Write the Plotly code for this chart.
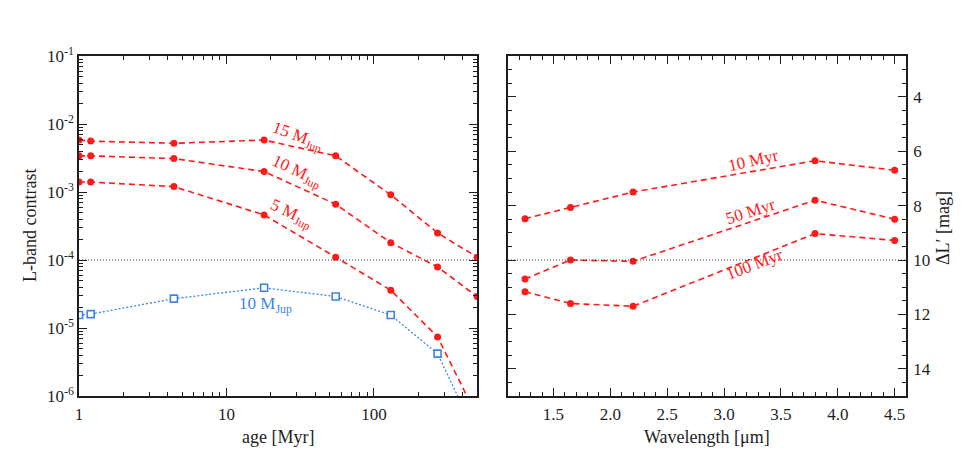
import plotly.graph_objects as go
import numpy as np

# ---------------- data ----------------
ages = [1.0, 1.2, 4.4, 18, 55, 130, 270, 500]
c15 = [5.8e-3, 5.6e-3, 5.2e-3, 5.8e-3, 3.4e-3, 9.1e-4, 2.5e-4, 1.1e-4]
c10 = [3.4e-3, 3.4e-3, 3.1e-3, 2.0e-3, 6.6e-4, 1.8e-4, 7.9e-5, 2.9e-5]
c5 = [1.4e-3, 1.4e-3, 1.2e-3, 4.6e-4, 1.1e-4, 3.6e-5, 7.4e-6, 5.0e-7]
c10_blue = [1.55e-5, 1.6e-5, 2.7e-5, 3.9e-5, 2.9e-5, 1.55e-5, 4.2e-6, 2.5e-7]

wav = [1.25, 1.65, 2.2, 3.8, 4.5]
m10 = [8.48, 8.07, 7.5, 6.35, 6.7]
m50 = [10.7, 10.0, 10.05, 7.8, 8.5]
m100 = [11.17, 11.6, 11.7, 9.03, 9.28]

ytick_vals = [1e-6, 1e-5, 1e-4, 1e-3, 1e-2, 1e-1]
ytick_text = ["10<sup>-6</sup>", "10<sup>-5</sup>", "10<sup>-4</sup>",
              "10<sup>-3</sup>", "10<sup>-2</sup>", "10<sup>-1</sup>"]

RED = "#ff1a1a"
BLUE = "#3d85e6"
FONT = "Liberation Serif"
INK = "#1e1e1e"
TICKSIZE = 17
TITLESIZE = 18
LABELSIZE = 17

fig = go.Figure()

for yy in [c15, c10, c5]:
    fig.add_trace(go.Scatter(x=ages, y=yy, mode="lines+markers", xaxis="x", yaxis="y",
                             line=dict(color=RED, width=1.6, dash="6px,4px"),
                             marker=dict(color=RED, size=7, symbol="circle"),
                             showlegend=False))
fig.add_trace(go.Scatter(x=ages, y=c10_blue, mode="lines+markers", xaxis="x", yaxis="y",
                         line=dict(color=BLUE, width=1.3, dash="2px,2px"),
                         marker=dict(color="white", size=7, symbol="square",
                                     line=dict(color=BLUE, width=1.6)),
                         showlegend=False))
fig.add_trace(go.Scatter(x=[1, 500], y=[1e-4, 1e-4], mode="lines", xaxis="x", yaxis="y",
                         line=dict(color="#333333", width=1, dash="1px,2px"), showlegend=False))

for yy in [m10, m50, m100]:
    fig.add_trace(go.Scatter(x=wav, y=yy, mode="lines+markers", xaxis="x2", yaxis="y2",
                             line=dict(color=RED, width=1.6, dash="6px,4px"),
                             marker=dict(color=RED, size=7, symbol="circle"),
                             showlegend=False))
fig.add_trace(go.Scatter(x=[1.1, 4.6], y=[10, 10], mode="lines", xaxis="x2", yaxis="y2",
                         line=dict(color="#333333", width=1, dash="1px,2px"), showlegend=False))

axcommon = dict(showline=True, linecolor=INK, linewidth=1.5, mirror="ticks",
                ticks="inside", ticklen=8, tickwidth=1.2, tickcolor=INK,
                showgrid=False, zeroline=False,
                tickfont=dict(family=FONT, size=TICKSIZE, color=INK))

ML, MR, MT, MB = 79, 68, 56, 54
PW, PH = 974 - ML - MR, 450 - MT - MB

fig.update_layout(
    width=974, height=450,
    margin=dict(l=ML, r=MR, t=MT, b=MB),
    font=dict(family=FONT, color=INK),
    plot_bgcolor="white", paper_bgcolor="white",
    xaxis=dict(type="log", range=[0, np.log10(500)], domain=[0, 0.4813],
               tickvals=[1, 10, 100], ticktext=["1", "10", "100"], ticklabelstandoff=2,
               minor=dict(ticks="inside", ticklen=4, tickcolor=INK,
                          tickvals=[2, 3, 4, 5, 6, 7, 8, 9, 20, 30, 40, 50, 60, 70, 80, 90,
                                    200, 300, 400]),
               anchor="y", **axcommon),
    yaxis=dict(type="log", range=[-6, -1], tickvals=ytick_vals, ticktext=ytick_text,
               ticklabelstandoff=0,
               minor=dict(ticks="inside", ticklen=4, tickcolor=INK,
                          tickvals=[m * 10.0 ** e for e in range(-6, -1) for m in range(2, 10)]),
               anchor="x", **axcommon),
    xaxis2=dict(range=[1.1, 4.6], domain=[0.5187, 1], tickvals=[1.5, 2.0, 2.5, 3.0, 3.5, 4.0, 4.5],
                ticktext=["1.5", "2.0", "2.5", "3.0", "3.5", "4.0", "4.5"], ticklabelstandoff=2,
                minor=dict(ticks="inside", ticklen=4, tickcolor=INK, dtick=0.1, tick0=1.0),
                anchor="y2", **axcommon),
    yaxis2=dict(range=[15, 2.5], side="right", tickvals=[4, 6, 8, 10, 12, 14],
                ticklabelstandoff=2,
                minor=dict(ticks="inside", ticklen=4, tickcolor=INK, dtick=0.5, tick0=2.5),
                anchor="x2", **axcommon),
)


def px(xp):
    return (xp - ML) / PW


def py(yp):
    return (450 - MB - yp) / PH


ann = [
    dict(x=np.log10(30.4), y=-2.19, xref="x", yref="y", text="15 M<sub>Jup</sub>", textangle=20,
         font=dict(family=FONT, size=LABELSIZE, color=RED), showarrow=False),
    dict(x=np.log10(29.9), y=-2.71, xref="x", yref="y", text="10 M<sub>Jup</sub>", textangle=25,
         font=dict(family=FONT, size=LABELSIZE, color=RED), showarrow=False),
    dict(x=np.log10(27.2), y=-3.32, xref="x", yref="y", text="5 M<sub>Jup</sub>", textangle=25,
         font=dict(family=FONT, size=LABELSIZE, color=RED), showarrow=False),
    dict(x=np.log10(18.4), y=-4.66, xref="x", yref="y", text="10 M<sub>Jup</sub>", textangle=0,
         font=dict(family=FONT, size=LABELSIZE, color=BLUE), showarrow=False),
    dict(x=3.256, y=6.36, xref="x2", yref="y2", text="10 Myr", textangle=-13,
         font=dict(family=FONT, size=LABELSIZE, color=RED), showarrow=False),
    dict(x=3.23, y=8.2, xref="x2", yref="y2", text="50 Myr", textangle=-18,
         font=dict(family=FONT, size=LABELSIZE, color=RED), showarrow=False),
    dict(x=3.265, y=10.18, xref="x2", yref="y2", text="100 Myr", textangle=-21,
         font=dict(family=FONT, size=LABELSIZE, color=RED), showarrow=False),
    dict(x=px(30), y=py(226), xref="paper", yref="paper", text="L-band contrast",
         textangle=-90, font=dict(family=FONT, size=TITLESIZE, color=INK), showarrow=False),
    dict(x=px(278), y=py(437), xref="paper", yref="paper", text="age [Myr]",
         font=dict(family=FONT, size=TITLESIZE, color=INK), showarrow=False),
    dict(x=px(707), y=py(437), xref="paper", yref="paper", text="Wavelength [μm]",
         font=dict(family=FONT, size=TITLESIZE, color=INK), showarrow=False),
    dict(x=px(943), y=py(228), xref="paper", yref="paper", text="ΔL′ [mag]",
         textangle=-90, font=dict(family=FONT, size=TITLESIZE, color=INK), showarrow=False),
]
for a in ann:
    if a["xref"] == "paper":
        a["xanchor"] = "center"
        a["yanchor"] = "middle"
fig.update_layout(annotations=ann)

fig.write_html("out.html")
